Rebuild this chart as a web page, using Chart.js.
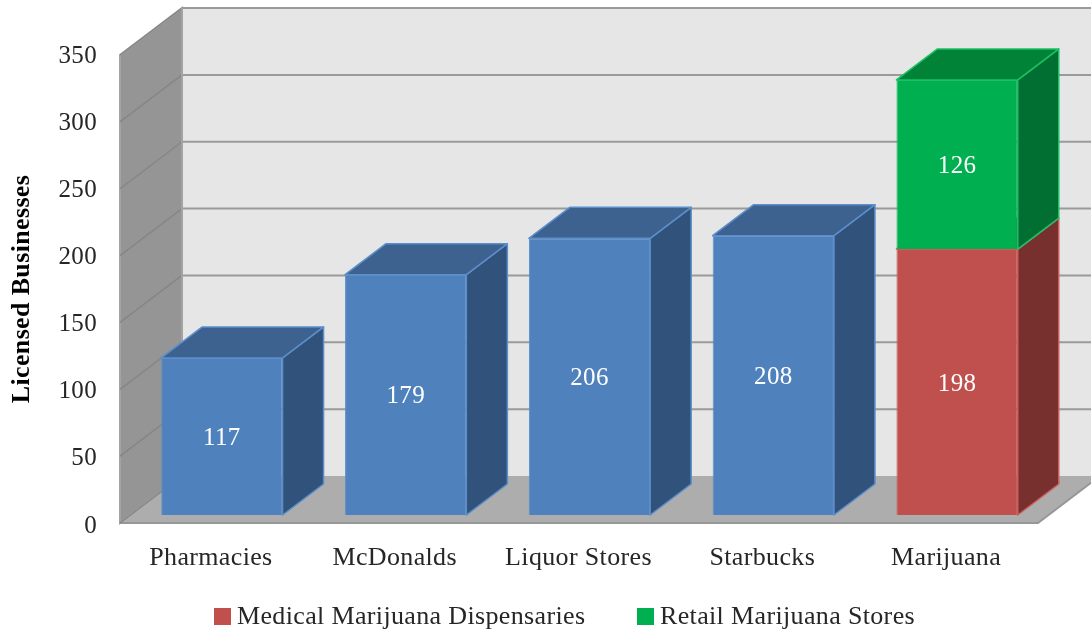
<!DOCTYPE html>
<html lang="en">
<head>
    <meta charset="utf-8" />
    <title>Licensed Businesses</title>
    <script src="https://cdn.jsdelivr.net/npm/chart.js"></script>
    <style>
        html, body { margin: 0; padding: 0; background: #fff; }
        canvas { display: block; }
    </style>
</head>
<body>
    <canvas id="chart" width="1091" height="633"></canvas>
    <script>
        var categories = ["Pharmacies", "McDonalds", "Liquor Stores", "Starbucks", "Marijuana"];
        var businesses = [117, 179, 206, 208, null];
        var medical = [null, null, null, null, 198];
        var retail = [null, null, null, null, 126];
        var yTicksMax = 350;
        var yTicksStep = 50;
        var yTitle = "Licensed Businesses";
        var fontName = "'Liberation Serif', serif";

        // box depth, in pixels
        var barDepthX = 41, barDepthY = 31;
        var wallDepthX = 62, wallDepthY = 47;
        var floorDrop = 8, floorInset = 10;
        var wallScale = 0.9957; // the walls sit a touch tighter than the bars

        function poly(ctx, pts, fill, stroke, lw) {
            ctx.beginPath();
            ctx.moveTo(pts[0][0], pts[0][1]);
            for (var i = 1; i < pts.length; i++) ctx.lineTo(pts[i][0], pts[i][1]);
            ctx.closePath();
            if (fill) { ctx.fillStyle = fill; ctx.fill(); }
            if (stroke) { ctx.strokeStyle = stroke; ctx.lineWidth = lw || 1; ctx.stroke(); }
        }

        var walls = {
            id: "walls",
            beforeDraw: function (chart) {
                var ctx = chart.ctx, y = chart.scales.y, a = chart.chartArea;
                var x0 = a.left - floorInset, x1 = a.right - 11;
                var base = y.getPixelForValue(0);
                var yZero = base + floorDrop;
                function wallY(v) { return yZero - (base - y.getPixelForValue(v)) * wallScale; }
                var yTop = wallY(yTicksMax);
                ctx.save();
                ctx.fillStyle = "#fff";
                ctx.fillRect(0, 0, chart.width, chart.height);
                // back wall
                poly(ctx, [[x0 + wallDepthX, yTop - wallDepthY], [x1 + wallDepthX, yTop - wallDepthY],
                    [x1 + wallDepthX, yZero - wallDepthY], [x0 + wallDepthX, yZero - wallDepthY]], "#e6e6e6");
                // side wall
                poly(ctx, [[x0, yZero], [x0, yTop], [x0 + wallDepthX, yTop - wallDepthY], [x0 + wallDepthX, yZero - wallDepthY]],
                    "#959595", "#a3a3a3", 2);
                // floor
                poly(ctx, [[x0, yZero], [x1, yZero], [x1 + wallDepthX, yZero - wallDepthY], [x0 + wallDepthX, yZero - wallDepthY]],
                    "#adadad");
                ctx.strokeStyle = "#979797";
                ctx.lineWidth = 2;
                ctx.beginPath();
                ctx.moveTo(x0, yZero);
                ctx.lineTo(x1, yZero);
                ctx.lineTo(x1 + wallDepthX, yZero - wallDepthY);
                ctx.stroke();
                // grid lines run across the side wall and on along the back
                y.ticks.forEach(function (t) {
                    var py = wallY(t.value);
                    ctx.strokeStyle = "#868686";
                    ctx.lineWidth = 1.5;
                    ctx.beginPath();
                    ctx.moveTo(x0, py);
                    ctx.lineTo(x0 + wallDepthX, py - wallDepthY);
                    ctx.stroke();
                    if (t.value > 0) {
                        ctx.strokeStyle = "#9a9a9a";
                        ctx.lineWidth = 2;
                        ctx.beginPath();
                        ctx.moveTo(x0 + wallDepthX, py - wallDepthY);
                        ctx.lineTo(chart.width, py - wallDepthY);
                        ctx.stroke();
                    }
                });
                ctx.strokeStyle = "#a3a3a3";
                ctx.lineWidth = 2;
                ctx.beginPath();
                ctx.moveTo(x0 + wallDepthX, yTop - wallDepthY);
                ctx.lineTo(x0 + wallDepthX, yZero - wallDepthY);
                ctx.stroke();
                ctx.restore();
                ctx.letterSpacing = "0.35px";
            },
            beforeDatasetsDraw: function (chart) {
                var ctx = chart.ctx;
                ctx.save();
                ctx.lineJoin = "round";
                chart.data.datasets.forEach(function (ds, d) {
                    chart.getDatasetMeta(d).data.forEach(function (el, i) {
                        if (ds.data[i] === null) return;
                        var l = el.x - el.width / 2, r = el.x + el.width / 2;
                        poly(ctx, [[r, el.y], [r + barDepthX, el.y - barDepthY], [r + barDepthX, el.base - barDepthY], [r, el.base]],
                            ds.sideColor, ds.borderColor, 1.5);
                        poly(ctx, [[l, el.y], [l + barDepthX, el.y - barDepthY], [r + barDepthX, el.y - barDepthY], [r, el.y]],
                            ds.topColor, ds.borderColor, 1.5);
                    });
                });
                ctx.restore();
            },
            afterDatasetsDraw: function (chart) {
                var ctx = chart.ctx;
                ctx.save();
                ctx.font = "25px " + fontName;
                ctx.fillStyle = "#fff";
                ctx.textAlign = "center";
                ctx.textBaseline = "middle";
                chart.data.datasets.forEach(function (ds, d) {
                    chart.getDatasetMeta(d).data.forEach(function (el, i) {
                        if (ds.data[i] === null) return;
                        ctx.fillText(String(ds.data[i]), el.x, (el.y + el.base) / 2 + 2);
                    });
                });
                ctx.restore();
            },
            afterDraw: function (chart) {
                // legend, two entries only
                var ctx = chart.ctx, cy = 617;
                var entries = [[chart.data.datasets[1], 214], [chart.data.datasets[2], 637]];
                ctx.save();
                ctx.font = "26px " + fontName;
                ctx.textBaseline = "middle";
                entries.forEach(function (e) {
                    ctx.fillStyle = e[0].backgroundColor;
                    ctx.fillRect(e[1], cy - 9, 17, 17);
                    ctx.fillStyle = "#262626";
                    ctx.fillText(e[0].label, e[1] + 23, cy);
                });
                ctx.restore();
                // axis title sits lower than the scale centre
                ctx.save();
                ctx.translate(22, 289);
                ctx.rotate(-Math.PI / 2);
                ctx.font = "bold 26px " + fontName;
                ctx.fillStyle = "#000";
                ctx.textAlign = "center";
                ctx.textBaseline = "middle";
                ctx.fillText(yTitle, 0, 0);
                ctx.restore();
            }
        };

        var chart = new Chart(document.getElementById("chart").getContext("2d"), {
            type: "bar",
            data: {
                labels: categories,
                datasets: [
                    { label: yTitle, data: businesses, backgroundColor: "#4f81bd", borderColor: "#5b8ecb", borderWidth: 1, sideColor: "#31527b", topColor: "#3d628f" },
                    { label: "Medical Marijuana Dispensaries", data: medical, backgroundColor: "#c0504d", borderColor: "#cc5f5c", borderWidth: 1, sideColor: "#77302e", topColor: "#8f3c3a" },
                    { label: "Retail Marijuana Stores", data: retail, backgroundColor: "#00b050", borderColor: "#1cc065", borderWidth: 1, sideColor: "#006f31", topColor: "#008237" }
                ]
            },
            options: {
                responsive: false,
                animation: false,
                events: [],
                layout: { padding: { left: 0, right: 42, top: 45, bottom: 0 } },
                datasets: { bar: { barPercentage: 0.66, categoryPercentage: 1 } },
                plugins: { legend: { display: false }, tooltip: { enabled: false }, title: { display: false } },
                scales: {
                    x: {
                        stacked: true,
                        grid: { display: false },
                        border: { display: false },
                        ticks: { color: "#262626", font: { family: fontName, size: 26 }, padding: 20, labelOffset: -11, maxRotation: 0, autoSkip: false },
                        afterFit: function (s) { s.height = 118; }
                    },
                    y: {
                        stacked: true,
                        min: 0,
                        max: yTicksMax,
                        grid: { display: false },
                        border: { display: false },
                        ticks: { stepSize: yTicksStep, color: "#262626", font: { family: fontName, size: 25 }, padding: 25, labelOffset: 11 },
                        afterFit: function (s) { s.width = 130; }
                    }
                }
            },
            plugins: [walls]
        });
    </script>
</body>
</html>
